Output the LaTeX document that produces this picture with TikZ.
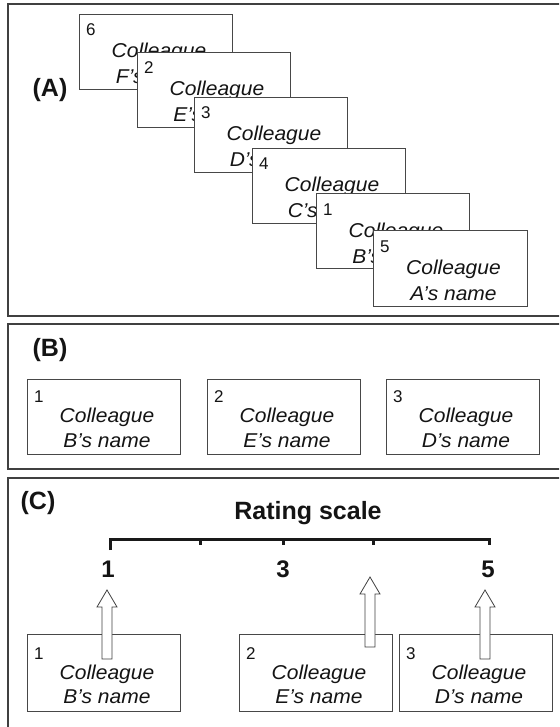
\documentclass[tikz,border=0pt]{standalone}
\usepackage{fontspec}
\setmainfont{Liberation Sans}
\newfontfamily\cardfont[FakeStretch=1.05]{Liberation Sans}
\usetikzlibrary{calc}

% one name card: [style]{name}{top-left}{number}{letter}{number baseline}{line 1 baseline}{line 2 baseline}
\newcommand\colleague[8][]{%
  \node[card,#1] (#2) at #3 {};
  \node[cardnum] (#2-n) at ($(#2.north west)+(7,#6)$) {#4};
  \node[cardline] (#2-a) at ($(#2.north)+(3,#7)$) {Colleague};
  \node[cardline] (#2-b) at ($(#2.north)+(3,#8)$) {#5’s name};
}

% hollow upward block arrow from a base point to a tip point
\newcommand\blockarrow[2]{%
  \draw[blockarr] ($(#1)+(-5,0)$) -- ($(#2)+(-5,17)$) -- ($(#2)+(-10,17)$) -- (#2)
    -- ($(#2)+(10,17)$) -- ($(#2)+(5,17)$) -- ($(#1)+(5,0)$) -- cycle;
}

\begin{document}
\begin{tikzpicture}[x=1pt,y=-1pt,
  ink/.style={text=black!92},
  panel/.style={draw=black!75, line width=1.1pt},
  card/.style={draw=black!72, line width=0.9pt, fill=white, inner sep=0pt,
    minimum width=153pt, minimum height=75pt, anchor=north west},
  cardnum/.style={ink, font=\fontsize{17}{17}\selectfont, inner sep=0pt, anchor=base west},
  cardline/.style={ink, font=\cardfont\itshape\fontsize{20}{20}\selectfont, inner sep=0pt, anchor=base},
  panellabel/.style={ink, font=\bfseries\fontsize{25}{25}\selectfont, inner sep=0pt},
  scalenum/.style={ink, font=\bfseries\fontsize{24}{24}\selectfont, inner sep=0pt},
  scaletitle/.style={ink, font=\bfseries\fontsize{25}{25}\selectfont, inner sep=0pt},
  scalebar/.style={draw=black!90, line width=3pt},
  blockarr/.style={draw=black!75, line width=0.8pt, fill=white, line join=miter},
]
\useasboundingbox (0,0) rectangle (559,727);
\clip (0,0) rectangle (559,727);

% panel frames
\draw[panel] (8,4) rectangle (575,316);
\draw[panel] (8,324) rectangle (575,469);
\draw[panel] (8,478) rectangle (575,745);

\node[panellabel] (labA) at (50,90) {(A)};
\node[panellabel] (labB) at (50,350) {(B)};
\node[panellabel] (labC) at (38,503) {(C)};

% (A) the shuffled pile of cards
\colleague{pF}{(79,14)}{6}{F}{22}{44}{70}
\colleague{pE}{(137,52)}{2}{E}{22}{44}{70}
\colleague{pD}{(194,97)}{3}{D}{22}{44}{70}
\colleague{pC}{(252,148)}{4}{C}{22}{44}{70}
\colleague{pB}{(316,193)}{1}{B}{22}{44}{70}
\colleague[minimum width=154pt, minimum height=76pt]{pA}{(373,230)}{5}{A}{22}{44}{70}

% (B) the chosen cards in a row
\colleague{rB}{(27,379)}{1}{B}{23}{43}{68}
\colleague{rE}{(207,379)}{2}{E}{23}{43}{68}
\colleague{rD}{(386,379)}{3}{D}{23}{43}{68}

% (C) the cards placed on the rating scale
\colleague[minimum height=77pt]{sB}{(27,634)}{1}{B}{25}{45}{69}
\colleague[minimum height=77pt]{sE}{(239,634)}{2}{E}{25}{45}{69}
\colleague[minimum height=77pt]{sD}{(399,634)}{3}{D}{25}{45}{69}

\node[scaletitle] (title) at (308,513) {Rating scale};

\coordinate (t1) at (110,539);
\coordinate (t2) at (200,539);
\coordinate (t3) at (283,539);
\coordinate (t4) at (373,539);
\coordinate (t5) at (489,539);
\draw[scalebar] ($(t1)+(0,11)$) -- (t1) -- (t5) -- ($(t5)+(0,6)$);
\foreach \t in {t2,t3,t4} \draw[scalebar] (\t) -- ($(\t)+(0,6)$);

\node[scalenum] (v1) at (108,569) {1};
\node[scalenum] (v3) at (283,569) {3};
\node[scalenum] (v5) at (488,569) {5};

\coordinate (aB0) at (107,659);
\coordinate (aB1) at (107,590);
\coordinate (aE0) at (370,647);
\coordinate (aE1) at (370,577);
\coordinate (aD0) at (485,659);
\coordinate (aD1) at (485,590);
\blockarrow{aB0}{aB1}
\blockarrow{aE0}{aE1}
\blockarrow{aD0}{aD1}
\end{tikzpicture}
\end{document}
